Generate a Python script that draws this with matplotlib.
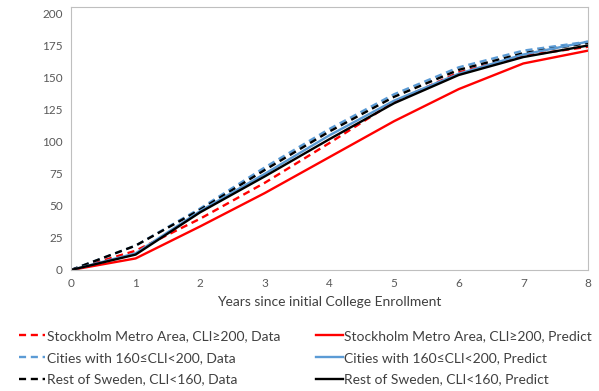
import numpy as np
import matplotlib
matplotlib.use("Agg")
import matplotlib.pyplot as plt

years = [0, 1, 2, 3, 4, 5, 6, 7, 8]

stockholm_data = [0, 15, 40, 68, 99, 131, 154, 167, 174]
stockholm_pred = [0, 9, 34, 60, 88, 116, 141, 161, 171]
cities_data = [0, 19, 48, 80, 110, 137, 158, 171, 178]
cities_pred = [0, 13, 46, 75, 105, 132, 153, 168, 178]
rest_data = [0, 19, 47, 78, 108, 135, 156, 169, 177]
rest_pred = [0, 12, 45, 73, 102, 130, 152, 166, 175]

labels_data = [
    "Stockholm Metro Area, CLI\u2265200, Data",
    "Cities with 160\u2264CLI<200, Data",
    "Rest of Sweden, CLI<160, Data",
]
labels_pred = [
    "Stockholm Metro Area, CLI\u2265200, Predict",
    "Cities with 160\u2264CLI<200, Predict",
    "Rest of Sweden, CLI<160, Predict",
]
colors = ["#FF0000", "#5B9BD5", "#000000"]

plt.rcParams["font.family"] = ["Lato", "DejaVu Sans"]

fig = plt.figure(figsize=(5.99, 3.91), dpi=100)
ax = fig.add_axes([0.1185, 0.3095, 0.863, 0.6725])

handles = []
for series, label, color in zip([stockholm_data, cities_data, rest_data], labels_data, colors):
    h, = ax.plot(years, series, color=color, linestyle=(0, (3, 2)), linewidth=1.7, label=label)
    handles.append(h)
for series, label, color in zip([stockholm_pred, cities_pred, rest_pred], labels_pred, colors):
    h, = ax.plot(years, series, color=color, linestyle="-", linewidth=1.7, label=label)
    handles.append(h)

ax.set_xlim(0, 8)
ax.set_ylim(0, 205)
ax.set_yticks(np.arange(0, 201, 25))
ax.set_xticks(years)
ax.tick_params(length=0, labelsize=8.5, colors="#595959", pad=6)
for s in ax.spines.values():
    s.set_color("#BFBFBF")
    s.set_linewidth(0.8)

ax.set_xlabel("Years since initial College Enrollment", fontsize=10, color="#404040", labelpad=5)

fig.legend(handles=handles, loc="upper left", bbox_to_anchor=(0.022, 0.17), ncol=2,
           frameon=False, fontsize=10, handlelength=1.9, handletextpad=0.12,
           columnspacing=2.6, labelspacing=0.7, labelcolor="#404040",
           borderaxespad=0)

fig.savefig("out.png", dpi=100)
